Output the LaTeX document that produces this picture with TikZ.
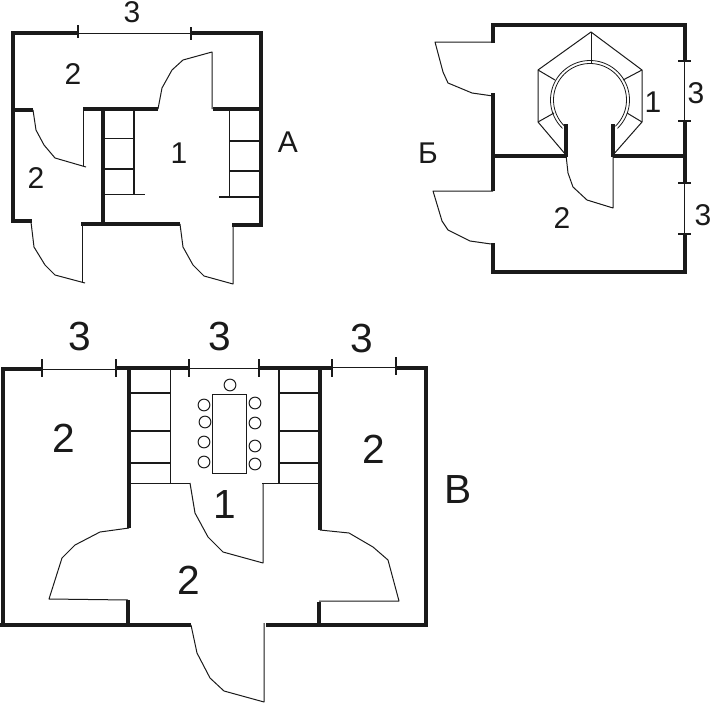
\documentclass[tikz,border=0pt]{standalone}
\usepackage{fontspec}
\setmainfont{Liberation Sans}
\tikzset{
  wall/.style={line width=3pt,color=ink,line join=miter},
  stub/.style={line width=2.4pt,color=ink},
  thin/.style={line width=0.75pt,color=ink,line join=round},
  hair/.style={line width=0.6pt,color=ink,line join=round},
  stair/.style={line width=1.4pt,color=ink},
  tick/.style={line width=1.2pt,color=ink},
  lab/.style={inner sep=0pt,font=\fontsize{22.5}{22.5}\selectfont,text=ink},
  labb/.style={inner sep=0pt,font=\fontsize{30.5}{30.5}\selectfont,text=ink},
  chair/.style={circle,draw=ink,line width=0.75pt,minimum size=8.8pt,inner sep=0pt},
}
\definecolor{ink}{HTML}{1A1A1A}
\begin{document}
\begin{tikzpicture}[x=0.75pt,y=-0.75pt]
\useasboundingbox (0,0) rectangle (711,703);
% ---------- Plan A ----------
\draw[wall] (78,33) -- (13,33) -- (13,221) -- (32,221);
\draw[stub] (13,110) -- (33,110);
\draw[wall] (192,33) -- (261,33) -- (261,225) -- (232,225);
\draw[wall] (83,109) -- (158,109);
\draw[wall] (213,109) -- (261,109);
\draw[wall] (103,109) -- (103,225);
\draw[wall] (81,224) -- (180,224);
\draw[thin] (78,33) -- (191,33);
\draw[tick] (78,25) -- (78,38) (191,27) -- (191,40);
\draw[thin] (33,110) -- (36,130) -- (44,145) -- (55,158) -- (86,167);
\draw[thin] (83,109) -- (83,166);
\draw[thin] (158,109) -- (162,88) -- (172,70) -- (183,60) -- (212,52) -- (212,109);
\draw[thin] (31,222) -- (34,247) -- (45,265) -- (55,275) -- (85,283);
\draw[thin] (82,224) -- (82,282);
\draw[thin] (180,224) -- (183,247) -- (193,265) -- (204,276) -- (233,284) -- (233,225);
\draw[stair] (134,110) -- (134,194);
\draw[stair] (105,138.5) -- (134,138.5) (105,169) -- (134,169) (105,194.5) -- (145,194.5);
\draw[stair] (229.5,110) -- (229.5,197);
\draw[stair] (229,141) -- (259,141) (229,171) -- (259,171) (219,197) -- (259,197);
\node[lab] (a3) at (132,12) {3};
\node[lab] (a2t) at (73,74) {2};
\node[lab] (a2b) at (36,178) {2};
\node[lab] (a1) at (179,153) {1};
\node[lab] (aA) at (288,142) {А};
% ---------- Plan B (Б) ----------
\draw[wall] (493,43) -- (493,25) -- (684.5,25) -- (684.5,61);
\draw[wall] (684.5,121) -- (684.5,183);
\draw[wall] (684.5,234) -- (684.5,272) -- (493,272) -- (493,243);
\draw[wall] (493,93) -- (493,191);
\draw[wall] (493,155.5) -- (566,155.5);
\draw[wall] (613,155.5) -- (684,155.5);
\draw[wall] (565.5,124) -- (565.5,157) (613,124) -- (613,157);
\draw[thin] (684.5,61) -- (684.5,121) (684.5,183) -- (684.5,234);
\draw[tick] (678,61) -- (691,61) (678,121) -- (691,121) (678,183) -- (691,183) (678,234) -- (691,234);
\draw[thin] (493,42) -- (435,42) -- (443,72) -- (448,83) -- (472,93) -- (493,96);
\draw[thin] (493,191) -- (433,191) -- (442,221) -- (448,230) -- (470,241) -- (491,244);
\draw[thin] (566,155) -- (568,173) -- (573,187) -- (587,200) -- (613,208) -- (613,155);
\draw[thin] (591,32) -- (642,70) -- (642,122) -- (613,155);
\draw[thin] (566,155) -- (538,122) -- (538,70) -- (591,32);
\draw[thin] (591,32) -- (591,64);
\draw[thin] (642,70) -- (623,80) (642,122) -- (627,113) (538,70) -- (555,80) (538,122) -- (554,113);
\draw[hair] plot[domain=134:406,samples=70] ({590+39.5*cos(\x)},{100+39.5*sin(\x)});
\draw[hair] plot[domain=134:406,samples=70] ({590+36.5*cos(\x)},{100+36.5*sin(\x)});
\node[lab] (b1) at (653,102) {1};
\node[lab] (b3t) at (696,93) {3};
\node[lab] (b3b) at (703,215) {3};
\node[lab] (b2) at (562,218) {2};
\node[lab] (bB) at (428,153) {Б};
% ---------- Plan C (В) ----------
\draw[wall] (42,369) -- (3,369) -- (3,625);
\draw[wall] (0,625) -- (191,625);
\draw[wall] (116,368) -- (189,368);
\draw[wall] (260,367.5) -- (332,367.5);
\draw[wall] (396,367.5) -- (426,367.5) -- (426,625) -- (266,625);
\draw[wall] (129,368) -- (129,528);
\draw[wall] (320,368) -- (320,530);
\draw[stub] (128,600) -- (128,625) (319,602) -- (319,625);
\draw[thin] (42,369) -- (116,369) (189,368) -- (259,368) (332,367) -- (396,367);
\draw[tick] (42,359) -- (42,377) (116,359) -- (116,377) (189,359) -- (189,377) (259,359) -- (259,377) (332,359) -- (332,377) (396,357) -- (396,375);
\draw[stair] (170.5,368) -- (170.5,483);
\draw[stair] (131,393) -- (170,393) (131,431) -- (170,431) (131,463) -- (170,463);
\draw[stair] (131,483.5) -- (190,483.5);
\draw[stair] (279,368) -- (279,483);
\draw[stair] (279,393) -- (318,393) (279,431) -- (318,431) (279,463) -- (318,463);
\draw[stair] (262,483.5) -- (318,483.5);
\draw[thin] (190,483) -- (195,513) -- (208,537) -- (223,552) -- (263,563) -- (263,483);
\draw[thin] (129,528) -- (100,532) -- (75,545) -- (62,558) -- (49,599) -- (128,600);
\draw[thin] (320,530) -- (349,533) -- (373,547) -- (388,560) -- (399,601) -- (319,601);
\draw[thin] (191,625) -- (197,653) -- (210,678) -- (224,691) -- (264,702) -- (264,623);
\node[draw=ink,line width=0.75pt,inner sep=0pt,minimum width=25.5pt,minimum height=59.25pt] (table) at (229,433.5) {};
\node[chair] (c0) at (230,385) {};
\node[chair] (c1) at (204,405) {};
\node[chair] (c2) at (205,422) {};
\node[chair] (c3) at (204,442) {};
\node[chair] (c4) at (204,462) {};
\node[chair] (c5) at (255,403) {};
\node[chair] (c6) at (255,423) {};
\node[chair] (c7) at (255,446) {};
\node[chair] (c8) at (255,464) {};
\node[labb] (c3a) at (80,336) {3};
\node[labb] (c3b) at (220,336) {3};
\node[labb] (c3c) at (362,338) {3};
\node[labb] (c2a) at (64,438) {2};
\node[labb] (c2b) at (374,449) {2};
\node[labb] (c2c) at (189,580) {2};
\node[labb] (c1a) at (225,505) {1};
\node[labb] (cV) at (458,490) {В};
\end{tikzpicture}
\end{document}
